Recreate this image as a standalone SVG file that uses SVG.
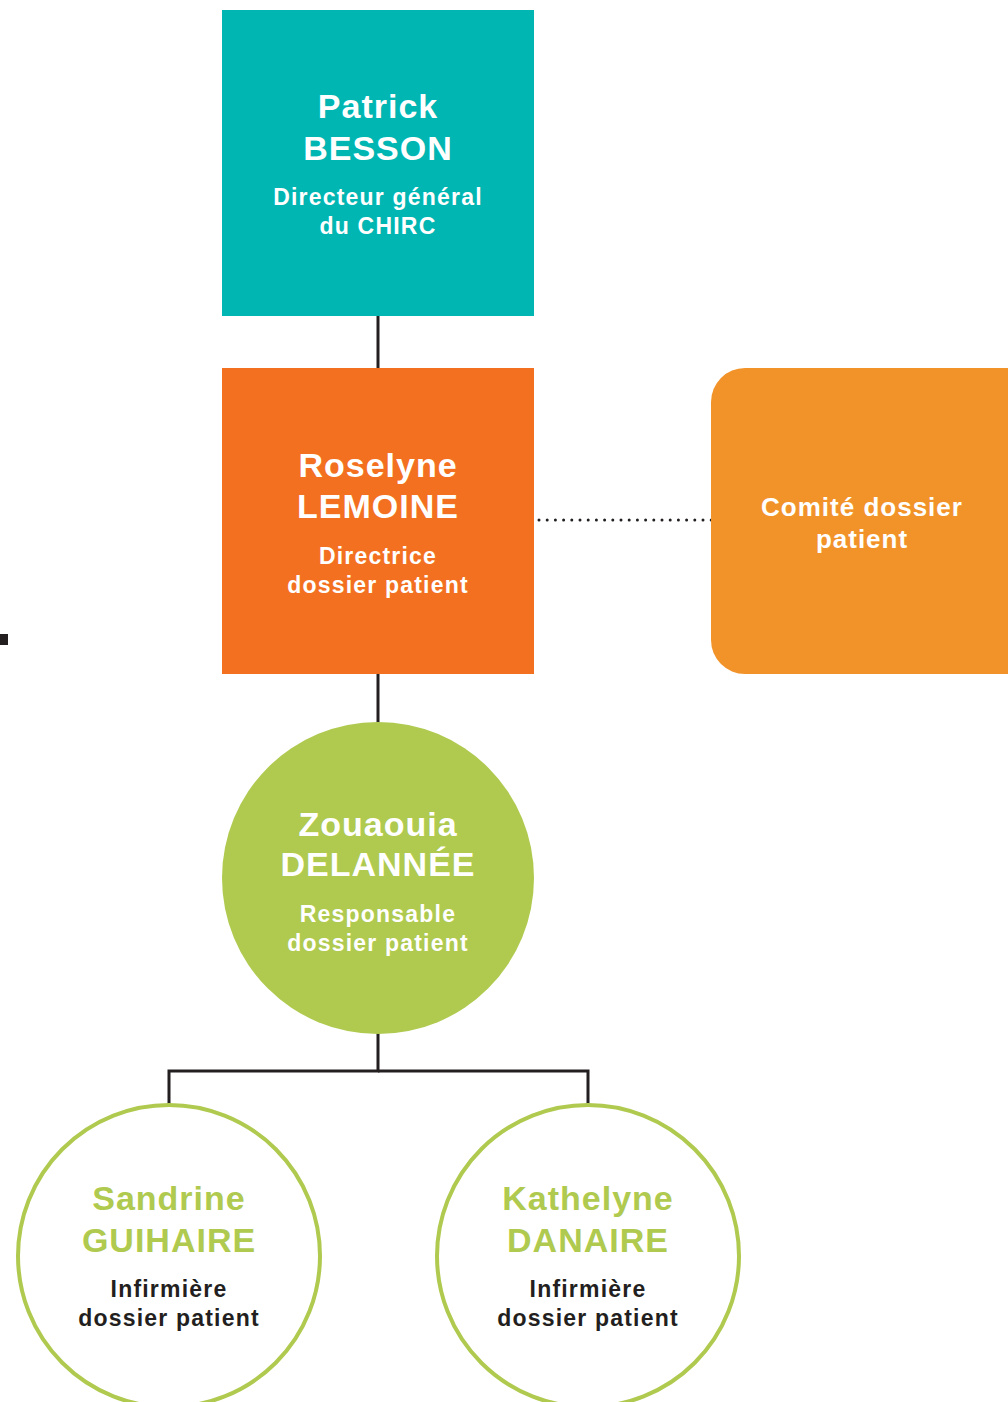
<svg xmlns="http://www.w3.org/2000/svg" width="1008" height="1402" viewBox="0 0 1008 1402">
<style>
.t{font-family:"Liberation Sans",Arial,sans-serif;font-weight:bold;text-anchor:middle}
.name{font-size:34px;letter-spacing:1px}
.role{font-size:23px;letter-spacing:1.2px}
.w{fill:#ffffff}
.g{fill:#AFCA4F}
.k{fill:#231F20}
.conn{stroke:#231F20;stroke-width:3;fill:none}
</style>
<rect width="1008" height="1402" fill="#ffffff"/>
<g id="connectors">
<line class="conn" x1="378" y1="316" x2="378" y2="368"/>
<line class="conn" x1="378" y1="674" x2="378" y2="724"/>
<polyline class="conn" points="378,1032 378,1071 169,1071 169,1105"/>
<polyline class="conn" points="378,1071 588,1071 588,1105"/>
<line x1="539" y1="520" x2="713" y2="520" stroke="#231F20" stroke-width="3" stroke-linecap="round" stroke-dasharray="0 8.2"/>
</g>
<rect id="mark" x="0" y="634" width="8" height="11" fill="#231F20"/>
<g id="besson">
<rect x="222" y="10" width="312" height="306" fill="#00B6B3"/>
<text class="t name w" x="378" y="118">Patrick</text>
<text class="t name w" x="378" y="160">BESSON</text>
<text class="t role w" x="378" y="205">Directeur général</text>
<text class="t role w" x="378" y="234">du CHIRC</text>
</g>
<g id="lemoine">
<rect x="222" y="368" width="312" height="306" fill="#F37021"/>
<text class="t name w" x="378" y="477">Roselyne</text>
<text class="t name w" x="378" y="518">LEMOINE</text>
<text class="t role w" x="378" y="564">Directrice</text>
<text class="t role w" x="378" y="593">dossier patient</text>
</g>
<g id="comite">
<rect x="711" y="368" width="330" height="306" rx="34" fill="#F2932A"/>
<text class="t w" x="862" y="516" font-size="26" letter-spacing="1">Comité dossier</text>
<text class="t w" x="862" y="548" font-size="26" letter-spacing="1">patient</text>
</g>
<g id="delannee">
<circle cx="378" cy="878" r="156" fill="#AFCA4F"/>
<text class="t name w" x="378" y="836">Zouaouia</text>
<text class="t name w" x="378" y="876">DELANNÉE</text>
<text class="t role w" x="378" y="922">Responsable</text>
<text class="t role w" x="378" y="951">dossier patient</text>
</g>
<g id="guihaire">
<circle cx="169" cy="1256" r="151" fill="#ffffff" stroke="#AFCA4F" stroke-width="4"/>
<text class="t name g" x="169" y="1210">Sandrine</text>
<text class="t name g" x="169" y="1252">GUIHAIRE</text>
<text class="t role k" x="169" y="1297">Infirmière</text>
<text class="t role k" x="169" y="1326">dossier patient</text>
</g>
<g id="danaire">
<circle cx="588" cy="1256" r="151" fill="#ffffff" stroke="#AFCA4F" stroke-width="4"/>
<text class="t name g" x="588" y="1210">Kathelyne</text>
<text class="t name g" x="588" y="1252">DANAIRE</text>
<text class="t role k" x="588" y="1297">Infirmière</text>
<text class="t role k" x="588" y="1326">dossier patient</text>
</g>
</svg>
